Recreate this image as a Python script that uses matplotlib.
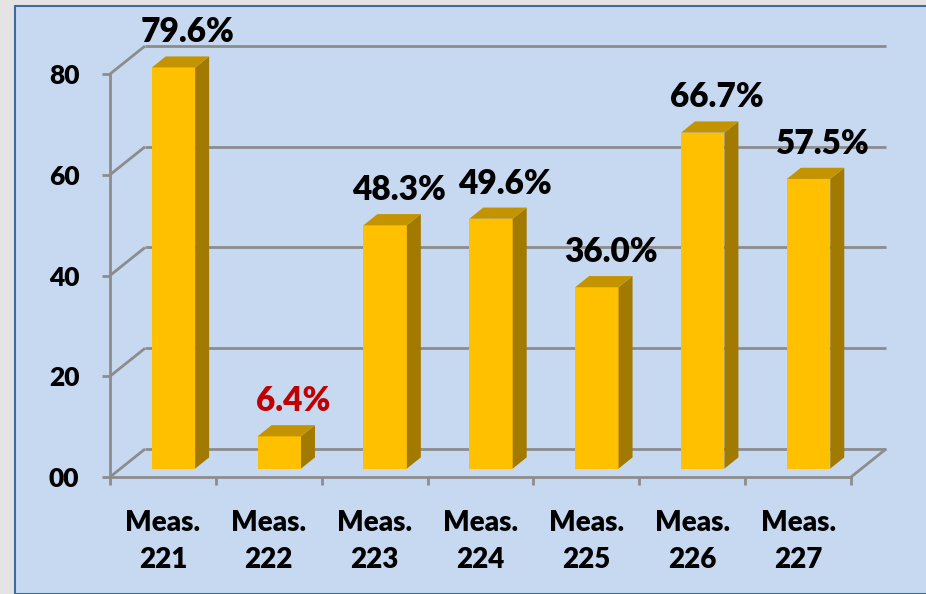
import matplotlib.pyplot as plt
from matplotlib.patches import Rectangle

plt.rcParams["font.family"] = ["Lato", "DejaVu Sans"]

CATEGORIES = ["Meas.\n221", "Meas.\n222", "Meas.\n223", "Meas.\n224",
              "Meas.\n225", "Meas.\n226", "Meas.\n227"]
VALUES = [79.6, 6.4, 48.3, 49.6, 36.0, 66.7, 57.5]
LABEL_COLORS = ["black", "#C00000", "black", "black", "black", "black", "black"]
Y_TICKS = [0, 20, 40, 60, 80]
Y_TICK_LABELS = ["00", "20", "40", "60", "80"]

W, H = 926, 594
GRID = "#8C8C8C"
FRONT = "#FFC000"
TOP = "#C49400"
SIDE = "#A27A00"
WEIGHT = "heavy"

fig = plt.figure(figsize=(W / 100, H / 100), dpi=100)
fig.patch.set_facecolor("#E4E4E4")
fig.patches.append(Rectangle((15 / W, 0), 1, 1 - 6 / H, transform=fig.transFigure,
                             facecolor="#C6D9F1", edgecolor="#3F6A9E", lw=1.5, zorder=0))

ax = fig.add_axes([110 / W, 117 / H, 741 / W, 403 / H])
ax.set_zorder(1)
ax.set_facecolor("none")
n = len(VALUES)
ax.set_xlim(-0.5, n - 0.5)
ax.set_ylim(0, 80)

# pixel depth of the 3D walls converted to data units
p0 = ax.transData.transform((0, 0))
p1 = ax.transData.transform((1, 1))
px_x, px_y = p1[0] - p0[0], p1[1] - p0[1]
DX, DY = 35 / px_x, 28 / px_y

line_kw = dict(color=GRID, lw=2, clip_on=False, zorder=1, solid_capstyle="butt")
x0, x1 = -0.5, n - 0.5
for v in Y_TICKS:
    ax.plot([x0 + DX, x1 + DX], [v + DY, v + DY], **line_kw)
    ax.plot([x0, x0 + DX], [v, v + DY], **line_kw)
ax.plot([x1, x1 + DX], [0, DY], **line_kw)

# bars with fake depth
f, bd, bw = 0.3, 0.4, 0.41
xs = [i + f * DX for i in range(n)]
base = f * DY
ax.bar(xs, VALUES, width=bw, bottom=base, color=FRONT, zorder=3, clip_on=False)
for x, v, c in zip(xs, VALUES, LABEL_COLORS):
    xl, xr, top = x - bw / 2, x + bw / 2, base + v
    ax.fill([xr, xr + bd * DX, xr + bd * DX, xr],
            [base, base + bd * DY, top + bd * DY, top],
            color=SIDE, zorder=3, clip_on=False, lw=0)
    ax.fill([xl, xr, xr + bd * DX, xl + bd * DX],
            [top, top, top + bd * DY, top + bd * DY],
            color=TOP, zorder=3, clip_on=False, lw=0)
    ax.text(x + 14 / px_x, top + bd * DY + 14 / px_y, f"{v:.1f}%",
            ha="center", va="baseline", fontsize=24, fontweight=WEIGHT, color=c)

for side in ["top", "right"]:
    ax.spines[side].set_visible(False)
for side in ["left", "bottom"]:
    ax.spines[side].set_color(GRID)
    ax.spines[side].set_linewidth(2)
    ax.spines[side].set_zorder(2)

ax.set_yticks(Y_TICKS)
ax.set_yticklabels(Y_TICK_LABELS, fontsize=19, fontweight=WEIGHT)
ax.tick_params(axis="y", length=6, width=2, color=GRID, pad=16)
ax.set_xticks(range(n))
ax.set_xticklabels(CATEGORIES, fontsize=20, fontweight=WEIGHT, linespacing=1.5)
ax.set_xticks([i - 0.5 for i in range(n + 1)], minor=True)
ax.tick_params(axis="x", which="major", length=0, pad=24)
ax.tick_params(axis="x", which="minor", length=6, width=2, color=GRID)

fig.savefig("out.png", dpi=100, facecolor=fig.get_facecolor())
